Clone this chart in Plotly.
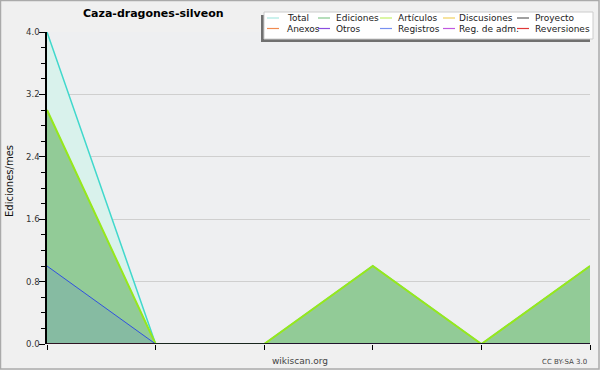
import plotly.graph_objects as go

# ---- data ----
months = [0, 1, 2, 3, 4, 5]
series_names = ["Total", "Ediciones", "Artículos", "Discusiones", "Proyecto",
                "Anexos", "Otros", "Registros", "Reg. de adm.", "Reversiones"]
total = [4, 0, 0, 1, 0, 1]
ediciones = [3, 0, 0, 1, 0, 1]
articulos = [3, 0, 0, 1, 0, 1]
discusiones = [0, 0, 0, 0, 0, 0]
proyecto = [0, 0, 0, 0, 0, 0]
anexos = [0, 0, 0, 0, 0, 0]
otros = [0, 0, 0, 0, 0, 0]
registros = [1, 0, 0, 0, 0, 0]
reg_adm = [0, 0, 0, 0, 0, 0]
reversiones = [0, 0, 0, 0, 0, 0]
y_ticks = [0.0, 0.8, 1.6, 2.4, 3.2, 4.0]
title_text = "Caza-dragones-silveon"
y_title = "Ediciones/mes"

# ---- styles ----
W, H = 600, 370
ML, MR, MT, MB = 47, 10, 32, 26
PW, PH = W - ML - MR, H - MT - MB
FONT = "DejaVu Sans"

def px(x):
    return (x - ML) / PW

def py(y):
    return (H - MB - y) / PH

legend_colors = ["#a8e8e2", "#86c98e", "#c4f06a", "#f0d060", "#606060",
                 "#f08a50", "#8a4ee0", "#7890f0", "#c058e0", "#e03838"]

fig = go.Figure()

# Total (light fill)
fig.add_trace(go.Scatter(x=months, y=total, mode="lines", name="Total",
                         line=dict(color="#40d8cc", width=1.5),
                         fill="tozeroy", fillcolor="rgb(217,242,236)",
                         showlegend=False))
# Ediciones (green fill)
fig.add_trace(go.Scatter(x=months, y=ediciones, mode="lines", name="Ediciones",
                         line=dict(color="#86c98e", width=1),
                         fill="tozeroy", fillcolor="#92cb97",
                         showlegend=False))
# zero series
for nm, vals, col in [("Discusiones", discusiones, legend_colors[3]),
                      ("Proyecto", proyecto, legend_colors[4]),
                      ("Anexos", anexos, legend_colors[5]),
                      ("Otros", otros, legend_colors[6]),
                      ("Reg. de adm.", reg_adm, legend_colors[8]),
                      ("Reversiones", reversiones, legend_colors[9])]:
    fig.add_trace(go.Scatter(x=months, y=vals, mode="lines", name=nm,
                             line=dict(color=col, width=1), showlegend=False))
# Artículos line
fig.add_trace(go.Scatter(x=months, y=articulos, mode="lines", name="Artículos",
                         line=dict(color="#96e81c", width=2),
                         showlegend=False))
# Registros
fig.add_trace(go.Scatter(x=months, y=registros, mode="lines", name="Registros",
                         line=dict(color="#3050e0", width=1),
                         fill="tozeroy", fillcolor="rgba(70,100,230,0.15)",
                         showlegend=False))

shapes = []
annotations = []

# outer border
shapes.append(dict(type="rect", xref="paper", yref="paper",
                   x0=px(0.5), x1=px(W - 1), y0=py(0.5), y1=py(H - 1),
                   line=dict(color="#aaaaaa", width=1.5), layer="below"))
# bottom axis line on top of zero-valued lines
shapes.append(dict(type="line", xref="paper", yref="y", x0=0, x1=1, y0=0, y1=0,
                   line=dict(color="black", width=1.6), layer="above"))

# legend box (shadow + box)
lx0, lx1, ly0, ly1 = 264, 593, 12, 39
shapes.append(dict(type="rect", xref="paper", yref="paper",
                   x0=px(lx0 - 3), x1=px(lx1 - 3), y0=py(ly0 + 3), y1=py(ly1 + 3),
                   fillcolor="#707070", line=dict(width=0), layer="above"))
shapes.append(dict(type="rect", xref="paper", yref="paper",
                   x0=px(lx0), x1=px(lx1), y0=py(ly0), y1=py(ly1),
                   fillcolor="white", line=dict(color="#cccccc", width=1), layer="above"))
line_x = [267, 318, 380, 443, 517]
text_x = [284.5, 333.5, 396, 457, 533]
row_y = [18, 28.5]
for i, nm in enumerate(series_names):
    r, c = divmod(i, 5)
    x0 = line_x[c]
    yy = row_y[r]
    shapes.append(dict(type="line", xref="paper", yref="paper",
                       x0=px(x0), x1=px(x0 + 12), y0=py(yy), y1=py(yy),
                       line=dict(color=legend_colors[i], width=1.2), layer="above"))
    annotations.append(dict(text=nm, xref="paper", yref="paper",
                            x=px(text_x[c]), y=py(yy), xanchor="left", yanchor="middle",
                            showarrow=False, font=dict(family=FONT, size=9, color="#222")))

annotations.append(dict(text="<b>%s</b>" % title_text, xref="paper", yref="paper",
                        x=px(153), y=py(14), xanchor="center", yanchor="middle",
                        showarrow=False, font=dict(family=FONT, size=11, color="black")))
annotations.append(dict(text=y_title, xref="paper", yref="paper",
                        x=px(9), y=py(181), xanchor="center", yanchor="middle",
                        textangle=-90, showarrow=False,
                        font=dict(family=FONT, size=10, color="#111")))
annotations.append(dict(text="wikiscan.org", xref="paper", yref="paper",
                        x=px(300), y=py(361), xanchor="center", yanchor="middle",
                        showarrow=False, font=dict(family=FONT, size=9, color="#444")))
annotations.append(dict(text="CC BY-SA 3.0", xref="paper", yref="paper",
                        x=px(589), y=py(362), xanchor="right", yanchor="middle",
                        showarrow=False, font=dict(family=FONT, size=7, color="#444")))

fig.update_layout(
    width=W, height=H,
    margin=dict(l=ML, r=MR, t=MT, b=MB, pad=0),
    paper_bgcolor="#f0f0f0", plot_bgcolor="#eeeff1",
    showlegend=False,
    shapes=shapes, annotations=annotations,
    font=dict(family=FONT, size=9, color="#333"),
)
fig.update_xaxes(range=[months[0], months[-1]], tickvals=months, showticklabels=False,
                 ticks="outside", ticklen=5, tickcolor="black", tickwidth=1,
                 showline=False,
                 showgrid=False, zeroline=False, fixedrange=True)
fig.update_yaxes(range=[0, 4], tickvals=y_ticks, tickformat=".1f",
                 ticks="outside", ticklen=6, tickcolor="black", tickwidth=1,
                 minor=dict(dtick=0.2, ticks="outside", ticklen=4, tickcolor="black", showgrid=False),
                 showline=True, linecolor="black", linewidth=1.5,
                 showgrid=True, gridcolor="#cfcfcf", gridwidth=1,
                 zeroline=False, fixedrange=True, ticklabelstandoff=-2,
                 tickfont=dict(family=FONT, size=8.5, color="#333"))

fig.write_html("out.html", config={"displayModeBar": False},
               post_script="document.body.style.margin='0';document.body.style.padding='0';")
